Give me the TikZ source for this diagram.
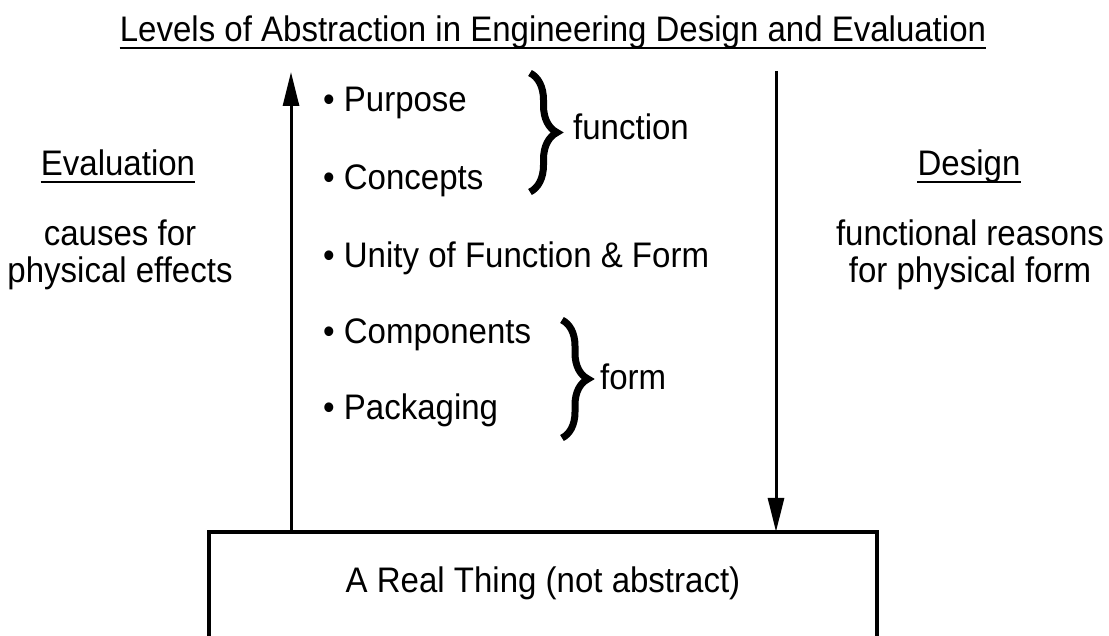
\documentclass[tikz,border=0pt]{standalone}
\usepackage{fontspec}
\setmainfont{Liberation Sans}[FakeStretch=0.93]
\usetikzlibrary{arrows.meta,decorations.pathreplacing}
\begin{document}
\begin{tikzpicture}[x=1pt,y=-1pt,
  lbl/.style={inner sep=0pt,anchor=base,font=\fontsize{35.5}{38}\selectfont},
  item/.style={lbl,anchor=base west},
  multi/.style={inner sep=0pt,anchor=center,align=center,font=\fontsize{35.5}{37}\selectfont},
  uline/.style={line width=2pt},
  flow/.style={line width=3pt,-{Triangle[length=34pt,width=16pt]}},
  boxline/.style={line width=4pt,line join=miter},
  curly/.style={line width=7pt,decorate,decoration={brace,amplitude=#1}}]
\useasboundingbox (0,0) rectangle (1109,636);

% title
\node[lbl] (title) at (553,42) {Levels of Abstraction in Engineering Design and Evaluation};
\draw[uline] ([yshift=-6pt]title.base west) -- ([yshift=-6pt]title.base east);

% side captions
\node[lbl] (evalhead) at (118,176) {Evaluation};
\draw[uline] ([yshift=-6pt]evalhead.base west) -- ([yshift=-6pt]evalhead.base east);
\node[multi] (evaltext) at (120,255) {causes for\\physical effects};

\node[lbl] (designhead) at (969,176) {Design};
\draw[uline] ([yshift=-6pt]designhead.base west) -- ([yshift=-6pt]designhead.base east);
\node[multi] (designtext) at (970,255) {functional reasons\\for physical form};

% levels
\node[item] (purpose) at (323,112) {\textbullet\ Purpose};
\node[item] (concepts) at (323,190) {\textbullet\ Concepts};
\node[item] (unity) at (323,268) {\textbullet\ Unity of Function \& Form};
\node[item] (components) at (323,344) {\textbullet\ Components};
\node[item] (packaging) at (323,420) {\textbullet\ Packaging};

% braces
\coordinate (fb1) at (530,73);
\coordinate (fb2) at (530,192);
\draw[curly=27pt] (fb1) -- (fb2);
\node[lbl,anchor=base west] (function) at (573,140) {function};

\coordinate (sb1) at (562,320);
\coordinate (sb2) at (562,438);
\draw[curly=26pt] (sb1) -- (sb2);
\node[lbl,anchor=base west] (form) at (600,389) {form};

% the real thing
\node[minimum width=668pt,minimum height=104pt,inner sep=0pt] (box) at (543,584) {};
\draw[boxline] (box.south west) -- (box.north west) -- (box.north east) -- (box.south east);
\node[lbl] (thing) at (543,592) {A Real Thing (not abstract)};

% evaluation and design flows
\coordinate (evaltop) at (291,72);
\coordinate (designtop) at (776,71);
\draw[flow] (box.north west -| evaltop) -- (evaltop);
\draw[flow] (designtop) -- (box.north west -| designtop);
\end{tikzpicture}
\end{document}
